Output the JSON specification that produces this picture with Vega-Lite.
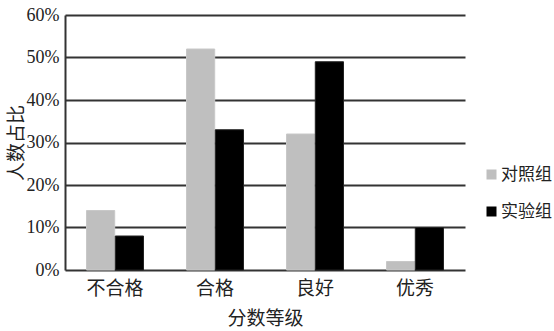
{
  "$schema": "https://vega.github.io/schema/vega-lite/v6.json",
  "width": 400,
  "height": 255,
  "autosize": "none",
  "padding": {"left": 65, "top": 15, "right": 89, "bottom": 61},
  "background": "white",
  "config": {
    "view": {"stroke": null},
    "font": "Liberation Serif, Noto Sans CJK SC"
  },
  "data": {
    "values": [
      {"grade": "不合格", "group": "对照组", "share": 0.14},
      {"grade": "不合格", "group": "实验组", "share": 0.08},
      {"grade": "合格", "group": "对照组", "share": 0.52},
      {"grade": "合格", "group": "实验组", "share": 0.33},
      {"grade": "良好", "group": "对照组", "share": 0.32},
      {"grade": "良好", "group": "实验组", "share": 0.49},
      {"grade": "优秀", "group": "对照组", "share": 0.02},
      {"grade": "优秀", "group": "实验组", "share": 0.10}
    ]
  },
  "mark": {"type": "bar", "strokeWidth": 1},
  "encoding": {
    "x": {
      "field": "grade",
      "type": "nominal",
      "sort": ["不合格", "合格", "良好", "优秀"],
      "scale": {"paddingInner": 0.43, "paddingOuter": 0.215},
      "axis": {
        "title": "分数等级",
        "titleFont": "Noto Sans CJK SC",
        "titleFontSize": 19,
        "titleFontWeight": "normal",
        "titleColor": "#222",
        "titlePadding": 11,
        "labelAngle": 0,
        "labelFont": "Noto Sans CJK SC",
        "labelFontSize": 19,
        "labelColor": "#222",
        "labelPadding": 9,
        "ticks": false,
        "domain": false,
        "grid": false
      }
    },
    "xOffset": {"field": "group", "type": "nominal", "sort": ["对照组", "实验组"], "scale": {"paddingInner": 0.02}},
    "y": {
      "field": "share",
      "type": "quantitative",
      "scale": {"domain": [0, 0.6], "nice": false},
      "axis": {
        "title": "人数占比",
        "titleFont": "Noto Sans CJK SC",
        "titleFontSize": 19,
        "titleFontWeight": "normal",
        "titleColor": "#222",
        "titlePadding": 0,
        "format": ".0%",
        "values": [0, 0.1, 0.2, 0.3, 0.4, 0.5, 0.6],
        "labelFont": "Liberation Serif",
        "labelFontSize": 18,
        "labelColor": "#222",
        "labelPadding": 6,
        "ticks": false,
        "domain": true,
        "domainColor": "#333",
        "domainWidth": 2,
        "grid": true,
        "gridColor": "#333",
        "gridWidth": 2
      }
    },
    "color": {
      "field": "group",
      "type": "nominal",
      "sort": ["对照组", "实验组"],
      "scale": {"domain": ["对照组", "实验组"], "range": ["#bfbfbf", "#000000"]},
      "legend": {
        "title": null,
        "orient": "none",
        "legendX": 418,
        "legendY": 151,
        "symbolType": "square",
        "symbolSize": 100,
        "symbolStrokeWidth": 0,
        "labelFont": "Noto Sans CJK SC",
        "labelFontSize": 17,
        "labelColor": "#222",
        "labelOffset": 1,
        "rowPadding": 19
      }
    },
    "stroke": {
      "field": "group",
      "type": "nominal",
      "scale": {"domain": ["对照组", "实验组"], "range": ["#c8c8c8", "#222222"]},
      "legend": null
    }
  }
}
